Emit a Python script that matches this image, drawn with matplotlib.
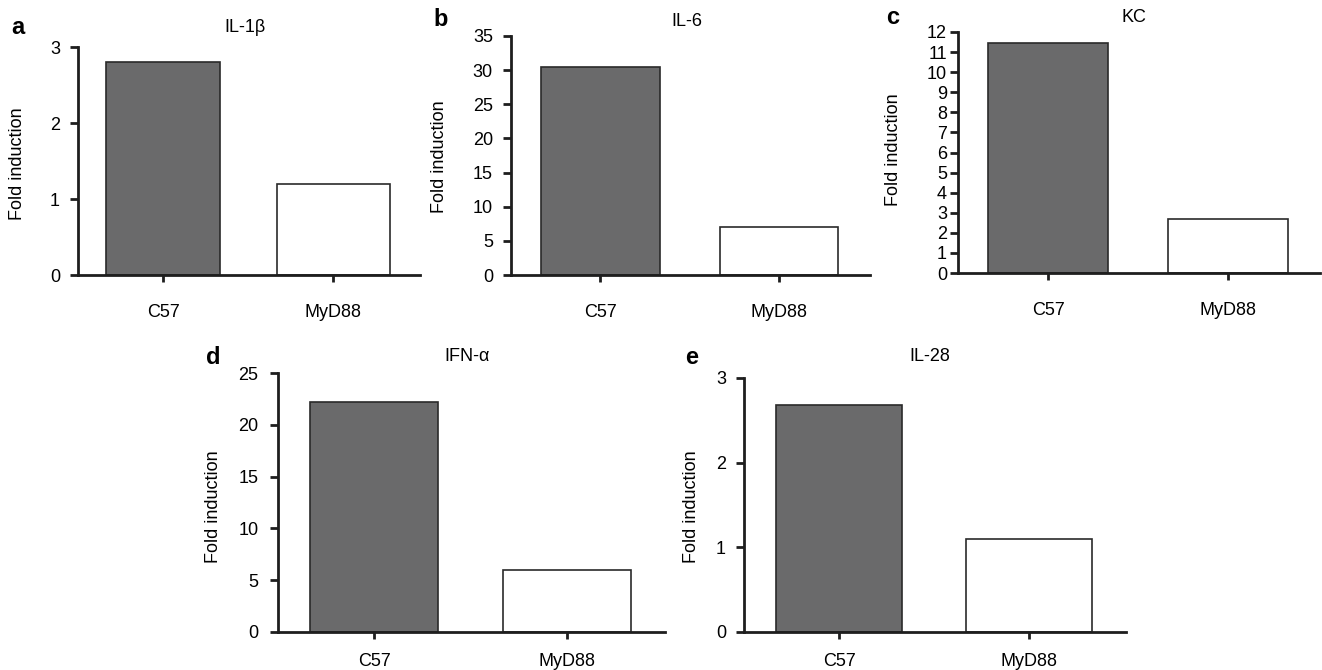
import matplotlib
matplotlib.use("Agg")
import matplotlib.pyplot as plt
import numpy as np

plt.rcParams['font.family'] = ['Liberation Sans', 'DejaVu Sans']

# Values
groups = ['C57', 'MyD88']
panel_letters = ['a', 'b', 'c', 'd', 'e']
titles = ['IL-1β', 'IL-6', 'KC', 'IFN-α', 'IL-28']
il1b = [2.8, 1.2]
il6 = [30.4, 7.0]
kc = [11.45, 2.7]
ifna = [22.2, 6.0]
il28 = [2.68, 1.1]
yticks_a = [0, 1, 2, 3]
yticks_b = [0, 5, 10, 15, 20, 25, 30, 35]
yticks_c = list(range(0, 13))
yticks_d = [0, 5, 10, 15, 20, 25]
yticks_e = [0, 1, 2, 3]

W, H = 1322, 670
fig = plt.figure(figsize=(W / 100, H / 100), dpi=100)
fig.patch.set_facecolor('white')

bar_colors = ['#6a6a6b', 'white']
edge = '#2a2a2a'
spine_c = '#1e1e1e'

# pixel layout of each panel: left, right, zero line, top, label pads
layout = [
    dict(l=78, r=420, b=275, t=47, ylab=(18, 164), title=(245, 27), let=(18, 27), xpad=16, ypad=7),
    dict(l=511, r=870, b=275, t=36, ylab=(440, 157), title=(687, 21), let=(441, 19), xpad=16, ypad=7),
    dict(l=958, r=1320, b=273, t=32, ylab=(893, 150), title=(1134, 17), let=(893, 18), xpad=16, ypad=2),
    dict(l=278, r=665, b=632, t=373, ylab=(213, 507), title=(467, 356), let=(213, 357), xpad=10, ypad=8),
    dict(l=744, r=1126, b=632, t=378, ylab=(691, 507), title=(930, 356), let=(692, 357), xpad=10, ypad=7),
]
data = [il1b, il6, kc, ifna, il28]
yticks = [yticks_a, yticks_b, yticks_c, yticks_d, yticks_e]


def fx(px):
    return px / W


def fy(py):
    return 1 - py / H


for i in range(5):
    p = layout[i]
    ax = fig.add_axes([fx(p['l']), fy(p['b']), (p['r'] - p['l']) / W, (p['b'] - p['t']) / H])
    x = np.arange(len(groups))
    ax.bar(x, data[i], width=0.665, color=bar_colors, edgecolor=edge, linewidth=1.2, zorder=2)
    ax.set_xlim(-0.5, 1.51)
    ax.set_ylim(0, yticks[i][-1])
    ax.set_yticks(yticks[i])
    ax.set_xticks(x)
    ax.set_xticklabels(groups)
    for s in ['top', 'right']:
        ax.spines[s].set_visible(False)
    for s in ['left', 'bottom']:
        ax.spines[s].set_linewidth(2.0)
        ax.spines[s].set_color(spine_c)
    ax.tick_params(axis='y', length=6, width=2.0, color=spine_c, labelsize=13, pad=p['ypad'])
    ax.tick_params(axis='x', length=5, width=2.0, color=spine_c, labelsize=13, pad=p['xpad'])
    ax.set_facecolor('none')

    fig.text(fx(p['ylab'][0]), fy(p['ylab'][1]), 'Fold induction', rotation=90,
             ha='center', va='center', fontsize=13)
    fig.text(fx(p['title'][0]), fy(p['title'][1]), titles[i], ha='center', va='center', fontsize=13)
    fig.text(fx(p['let'][0]), fy(p['let'][1]), panel_letters[i], ha='center', va='center',
             fontsize=17, fontweight='bold')

fig.savefig('out.png', dpi=100)
